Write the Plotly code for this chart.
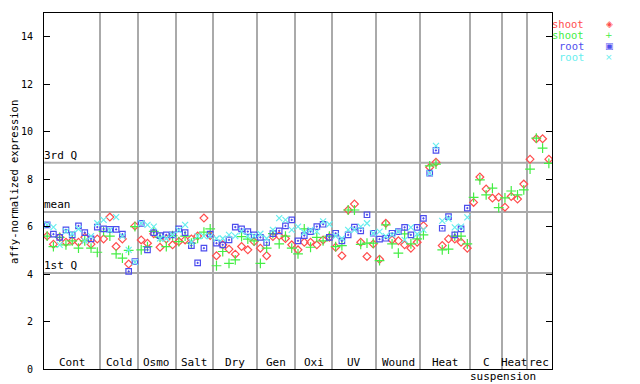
import numpy as np
import plotly.graph_objects as go

# ---- data ----
group_names = ["Cont", "Cold", "Osmo", "Salt", "Dry", "Gen", "Oxi", "UV", "Wound", "Heat", "C", "Heat", "rec"]
group_sizes = [9, 6, 6, 6, 7, 6, 6, 7, 7, 8, 5, 4, 4]

shoot_red = [5.6, 5.26, 5.55, 5.34, 5.4, 5.34, 5.55, 5.26, 5.48,
             5.48, 6.4, 5.16, 5.48, 4.42, 6.03,
             5.44, 5.3, 5.7, 5.13, 5.48, 5.23,
             5.37, 5.44, 5.48, 5.6, 6.36, 5.62,
             4.77, 5.23, 5.05, 4.84, 5.16, 5.02, 5.37,
             5.09, 4.77, 5.58, 5.61, 5.5, 5.23,
             5.02, 5.34, 5.34, 5.23, 5.44, 5.55,
             5.13, 4.77, 6.7, 6.95, 5.34, 4.74, 5.27,
             4.62, 6.14, 5.44, 5.4, 5.23, 5.09, 5.34,
             6.04, 8.5, 8.71, 5.2, 5.48, 5.48, 5.34, 5.09,
             7.02, 8.09, 7.58, 7.2, 7.24,
             6.82, 7.27, 7.16, 7.79,
             8.84, 9.7, 9.7, 8.84]

shoot_green = [5.6, 5.16, 5.55, 5.23, 5.4, 5.09, 5.4, 5.09, 4.92,
               5.8, 5.6, 4.85, 4.67, 5.0, 6.0,
               5.02, 5.16, 5.8, 5.55, 5.16, 5.62,
               5.37, 5.6, 5.3, 5.5, 5.77, 5.9,
               4.35, 4.95, 4.45, 4.6, 5.58, 5.47, 5.4,
               4.45, 5.09, 5.7, 5.27, 5.6, 5.09,
               4.85, 5.9, 5.13, 5.55, 5.4, 5.6,
               5.16, 5.2, 6.7, 6.7, 5.25, 5.3, 5.3,
               4.57, 6.07, 5.27, 4.88, 5.69, 5.27, 5.48,
               5.65, 8.56, 8.63, 5.02, 5.05, 5.6, 5.6, 5.27,
               7.23, 7.97, 7.34, 7.62, 6.8,
               7.21, 7.5, 7.34, 7.55,
               8.42, 9.73, 9.31, 8.66]

root_blue = [6.07, 5.68, 5.55, 5.86, 5.65, 6.03, 5.75, 5.48, 5.98,
             5.9, 5.88, 5.88, 5.68, 4.11, 4.53,
             6.14, 5.02, 5.75, 5.62, 5.65, 5.65,
             5.9, 5.75, 5.2, 4.47, 5.09, 5.68,
             5.3, 5.23, 5.44, 5.98, 5.9, 5.79, 5.65,
             5.55, 5.33, 5.7, 5.82, 6.03, 6.28,
             5.4, 5.62, 5.79, 6.0, 6.1, 5.55,
             5.72, 5.4, 5.65, 5.98, 5.82, 6.5, 5.72,
             5.47, 5.51, 5.72, 5.79, 5.97, 5.65, 5.97,
             6.35, 8.25, 9.21, 5.93, 6.42, 5.65, 5.9, 6.78]

root_cyan = [6.07, 5.98, 5.23, 5.8, 5.7, 5.9, 5.4, 5.6, 6.14,
             6.28, 5.85, 6.4, 5.6, 5.02, 4.5,
             6.14, 6.07, 6.0, 5.5, 5.5, 5.65,
             5.85, 6.07, 5.35, 5.6, 5.6, 5.6,
             5.5, 5.5, 5.65, 5.6, 5.8, 5.6, 5.6,
             5.7, 5.5, 5.86, 6.36, 6.28, 5.86,
             6.0, 5.75, 5.86, 5.79, 6.22, 6.1,
             5.6, 5.5, 5.86, 5.86, 6.0, 6.14, 5.72,
             5.79, 5.6, 5.65, 5.79, 5.44, 5.97, 5.69,
             5.86, 8.25, 9.4, 6.24, 6.33, 5.97, 6.0, 6.39]

q1_value = 4.05
mean_value = 6.62
q3_value = 8.69
y_ticks = [0, 2, 4, 6, 8, 10, 12, 14]

# ---- styling ----
RED = "#ff4d4d"
GREEN = "#44ee44"
BLUE = "#4d4dee"
CYAN = "#66eeee"
GRID = "#aaaaaa"
FONT = "DejaVu Sans Mono"

n_samples = sum(group_sizes)
bounds = np.cumsum([0] + group_sizes)
x_all = np.arange(n_samples) + 0.5

fig = go.Figure()
fig.add_trace(go.Scatter(x=x_all, y=shoot_red, mode="markers", name="shoot",
                         marker=dict(symbol="diamond-open", size=6, color=RED, line=dict(width=1.2, color=RED))))
fig.add_trace(go.Scatter(x=x_all, y=shoot_green, mode="markers", name="shoot",
                         marker=dict(symbol="cross-thin-open", size=7, color=GREEN, line=dict(width=1.2, color=GREEN))))
fig.add_trace(go.Scatter(x=x_all[:len(root_blue)], y=root_blue, mode="markers", name="root",
                         marker=dict(symbol="square-open-dot", size=5.5, color=BLUE, line=dict(width=1.2, color=BLUE))))
fig.add_trace(go.Scatter(x=x_all[:len(root_cyan)], y=root_cyan, mode="markers", name="root",
                         marker=dict(symbol="x-thin-open", size=6, color=CYAN, line=dict(width=1.2, color=CYAN))))

# quartile / mean lines
for val, lab in [(q3_value, "3rd Q"), (mean_value, "mean"), (q1_value, "1st Q")]:
    fig.add_shape(type="line", xref="paper", x0=0, x1=1, yref="y", y0=val, y1=val,
                  line=dict(color=GRID, width=2), layer="below")
    fig.add_annotation(xref="paper", x=0, yref="y", y=val, text=lab, showarrow=False,
                       xanchor="left", yanchor="bottom", xshift=-2, yshift=-1,
                       font=dict(family=FONT, size=11, color="black"))

# group labels
for i, name in enumerate(group_names):
    cx = (bounds[i] + bounds[i + 1]) / 2
    fig.add_annotation(x=cx, xref="x", yref="paper", y=0, text=name, showarrow=False,
                       xanchor="center", yanchor="bottom", yshift=-2,
                       font=dict(family=FONT, size=11, color="black"))
    if name == "C":
        fig.add_annotation(x=cx, xref="x", yref="paper", y=0, text="suspension", showarrow=False,
                           xanchor="center", yanchor="top", xshift=17, yshift=1, height=13,
                           font=dict(family=FONT, size=11, color="black"))

# y-axis title
fig.add_annotation(xref="paper", x=0, xshift=-30, yref="paper", y=0.525, text="affy-normalized expression",
                   textangle=-90, showarrow=False, xanchor="center", yanchor="middle", height=11,
                   font=dict(family=FONT, size=10.5, color="black"))

# legend (manual, text to the left of the symbol)
leg = [("shoot", RED, "◈"), ("shoot", GREEN, "+"), ("root", BLUE, "▣"), ("root", CYAN, "×")]
for k, (txt, col, sym) in enumerate(leg):
    ypx = 24 + 11 * k
    yp = (369 - ypx) / 356
    fig.add_annotation(xref="paper", x=(586 - 44) / 508, yref="paper", y=yp, text=txt, showarrow=False,
                       xanchor="right", yanchor="middle", height=10,
                       font=dict(family=FONT, size=10.5, color=col))
    fig.add_annotation(xref="paper", x=(609 - 44) / 508, yref="paper", y=yp, text=sym, showarrow=False,
                       xanchor="center", yanchor="middle", height=10,
                       font=dict(family="DejaVu Sans", size=9, color=col))

# page body has an 8px margin; size the figure so the plot lands where the reference has it
fig.update_layout(
    width=632, height=376,
    margin=dict(l=36, r=88, t=5, b=15, autoexpand=False),
    paper_bgcolor="white", plot_bgcolor="white",
    showlegend=False,
    font=dict(family=FONT, size=10, color="black"),
)
fig.update_xaxes(range=[0, n_samples], tickvals=list(bounds[1:-1]), showticklabels=False, ticks="",
                 showgrid=True, gridcolor=GRID, gridwidth=2, zeroline=False, automargin=False,
                 showline=True, linecolor="black", linewidth=1, mirror=True)
fig.update_yaxes(range=[0, 15], tickvals=y_ticks, ticks="inside", ticklen=6, tickcolor="black",
                 showgrid=False, zeroline=False, showline=True, linecolor="black", linewidth=1,
                 automargin=False, mirror="ticks", ticklabelstandoff=8, tickfont=dict(family=FONT, size=10))

fig.write_html("out.html")
